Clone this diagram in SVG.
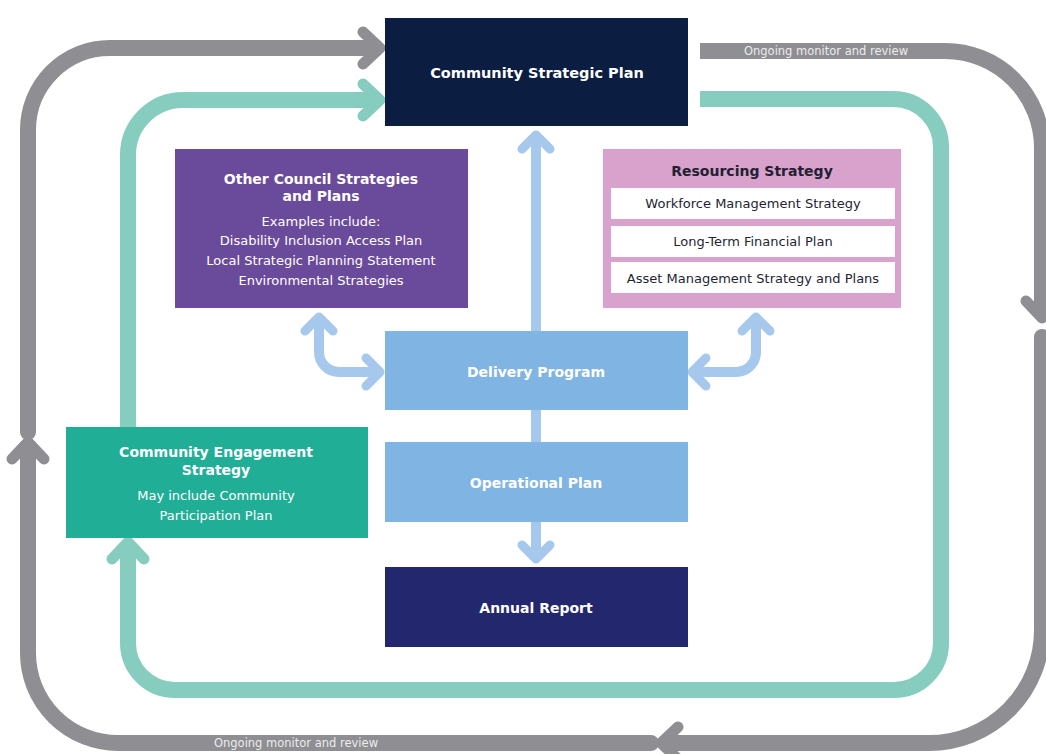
<svg xmlns="http://www.w3.org/2000/svg" width="1046" height="754" viewBox="0 0 1046 754">
<style>
.g{fill:none;stroke:#8e8e93;stroke-width:16;stroke-linecap:round;stroke-linejoin:round}
.t{fill:none;stroke:#86cdbf;stroke-width:16;stroke-linecap:round;stroke-linejoin:round}
.b{fill:none;stroke:#a6c8ec;stroke-width:10;stroke-linecap:round;stroke-linejoin:round}
.butt{stroke-linecap:butt}
.hd{font-family:"DejaVu Sans","Open Sans",sans-serif;font-weight:700;text-anchor:middle}
.tx{font-family:"DejaVu Sans","Open Sans",sans-serif;font-weight:400;text-anchor:middle}
.w{fill:#ffffff}
.dk{fill:#231f33}
.lbl{font-family:"DejaVu Sans","Open Sans",sans-serif;font-size:11.5px;fill:#ececec;text-anchor:middle}
</style>
<defs>
<marker id="mg" markerUnits="userSpaceOnUse" viewBox="-30 -25 40 50" markerWidth="40" markerHeight="50" refX="-8" refY="0" orient="auto" overflow="visible">
<path d="M-17,-16 L0,0 L-17,16" fill="none" stroke="#8e8e93" stroke-width="11" stroke-linecap="round" stroke-linejoin="round"/>
</marker>
<marker id="mt" markerUnits="userSpaceOnUse" viewBox="-30 -25 40 50" markerWidth="40" markerHeight="50" refX="-8" refY="0" orient="auto" overflow="visible">
<path d="M-17,-16 L0,0 L-17,16" fill="none" stroke="#86cdbf" stroke-width="11" stroke-linecap="round" stroke-linejoin="round"/>
</marker>
<marker id="mb" markerUnits="userSpaceOnUse" viewBox="-25 -20 30 40" markerWidth="30" markerHeight="40" refX="-6" refY="0" orient="auto-start-reverse" overflow="visible">
<path d="M-14,-14 L0,0 L-14,14" fill="none" stroke="#a6c8ec" stroke-width="9" stroke-linecap="round" stroke-linejoin="round"/>
</marker>
</defs>
<rect width="1046" height="754" fill="#ffffff"/>
<g id="connectors">
<path class="g" d="M28,432 L28,130 A82,82 0 0 1 110,48 L372,48" marker-end="url(#mg)"/>
<path class="g butt" d="M700,51 L945,51 A97,97 0 0 1 1042,148 L1042,310" marker-end="url(#mg)"/>
<path class="g" d="M1042,337 L1042,630 A113,113 0 0 1 929,743 L669,743" marker-end="url(#mg)"/>
<path class="g" d="M651,743 L118,743 A90,90 0 0 1 28,653 L28,450" marker-end="url(#mg)"/>
<path class="t butt" d="M128,427 L128,155 A55,55 0 0 1 183,100 L372,100" marker-end="url(#mt)"/>
<path class="t butt" d="M700,99 L893,99 A48,48 0 0 1 941,147 L941,643 A47,47 0 0 1 894,690 L175,690 A47,47 0 0 1 128,643 L128,550" marker-end="url(#mt)"/>
<path class="b butt" d="M536,331 L536,141" marker-end="url(#mb)"/>
<path class="b butt" d="M536,410 L536,442"/>
<path class="b butt" d="M536,522 L536,553" marker-end="url(#mb)"/>
<path class="b" d="M319,323 L319,352 A20,20 0 0 0 339,372 L374,372" marker-start="url(#mb)" marker-end="url(#mb)"/>
<path class="b" d="M756,323 L756,352 A20,20 0 0 1 736,372 L698,372" marker-start="url(#mb)" marker-end="url(#mb)"/>
<text class="lbl" x="826" y="55">Ongoing monitor and review</text>
<text class="lbl" x="296" y="747">Ongoing monitor and review</text>
</g>
<g id="csp">
<rect x="385" y="18" width="303" height="108" fill="#0b1e42"/>
<text class="hd w" x="537" y="78" font-size="14.5">Community Strategic Plan</text>
</g>
<g id="other-council">
<rect x="175" y="149" width="293" height="159" fill="#6a4a9b"/>
<text class="hd w" x="321" y="184" font-size="14">Other Council Strategies</text>
<text class="hd w" x="321" y="201" font-size="14">and Plans</text>
<text class="tx w" x="321" y="226" font-size="13">Examples include:</text>
<text class="tx w" x="321" y="245" font-size="13">Disability Inclusion Access Plan</text>
<text class="tx w" x="321" y="265" font-size="13">Local Strategic Planning Statement</text>
<text class="tx w" x="321" y="285" font-size="13">Environmental Strategies</text>
</g>
<g id="resourcing">
<rect x="603" y="149" width="298" height="159" fill="#d8a2cc"/>
<text class="hd dk" x="752" y="176" font-size="14">Resourcing Strategy</text>
<rect x="611" y="188" width="284" height="31" fill="#ffffff"/>
<rect x="611" y="226" width="284" height="31" fill="#ffffff"/>
<rect x="611" y="262" width="284" height="31" fill="#ffffff"/>
<text class="tx dk" x="753" y="208" font-size="13">Workforce Management Strategy</text>
<text class="tx dk" x="753" y="246" font-size="13">Long-Term Financial Plan</text>
<text class="tx dk" x="753" y="283" font-size="13">Asset Management Strategy and Plans</text>
</g>
<g id="delivery">
<rect x="385" y="331" width="303" height="79" fill="#80b4e2"/>
<text class="hd w" x="536" y="377" font-size="14">Delivery Program</text>
</g>
<g id="operational">
<rect x="385" y="442" width="303" height="80" fill="#80b4e2"/>
<text class="hd w" x="536" y="488" font-size="14">Operational Plan</text>
</g>
<g id="annual">
<rect x="385" y="567" width="303" height="80" fill="#23286e"/>
<text class="hd w" x="536" y="613" font-size="14">Annual Report</text>
</g>
<g id="engagement">
<rect x="66" y="427" width="302" height="111" fill="#21ae97"/>
<text class="hd w" x="216" y="457" font-size="14">Community Engagement</text>
<text class="hd w" x="216" y="475" font-size="14">Strategy</text>
<text class="tx w" x="216" y="500" font-size="13">May include Community</text>
<text class="tx w" x="216" y="520" font-size="13">Participation Plan</text>
</g>
</svg>
